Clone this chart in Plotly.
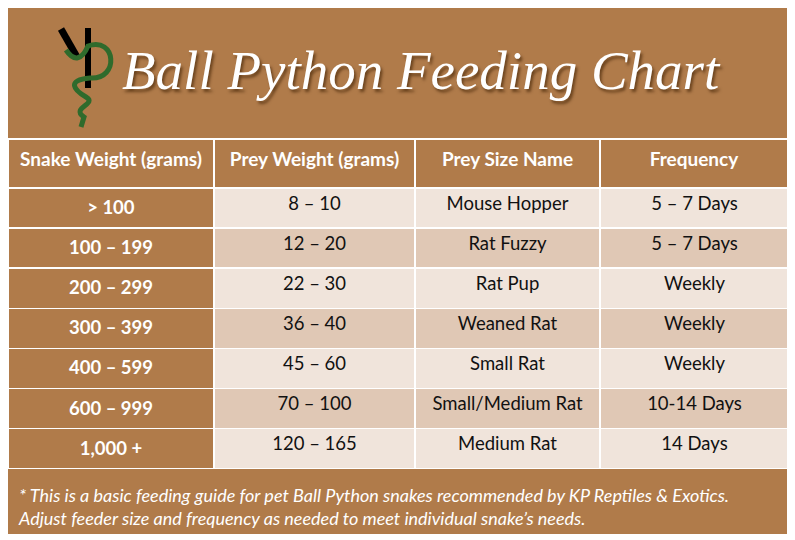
import plotly.graph_objects as go

# table data
headers = ["Snake Weight (grams)", "Prey Weight (grams)", "Prey Size Name", "Frequency"]
snake_weight = ["> 100", "100 – 199", "200 – 299", "300 – 399", "400 – 599", "600 – 999", "1,000 +"]
prey_weight = ["8 – 10", "12 – 20", "22 – 30", "36 – 40", "45 – 60", "70 – 100", "120 – 165"]
prey_size = ["Mouse Hopper", "Rat Fuzzy", "Rat Pup", "Weaned Rat", "Small Rat", "Small/Medium Rat", "Medium Rat"]
frequency = ["5 – 7 Days", "5 – 7 Days", "Weekly", "Weekly", "Weekly", "10-14 Days", "14 Days"]

title = "Ball Python Feeding Chart"
footnote = ("* This is a basic feeding guide for pet Ball Python snakes recommended by KP Reptiles & Exotics.<br>"
            "Adjust feeder size and frequency as needed to meet individual snake’s needs.")

W, H = 795, 540
OFF = 8  # page body margin of the browser
BROWN = "#B07B4A"
LIGHT = "#F0E4DB"
DARK = "#E0C8B5"

# helpers to place things in page pixels
def px(x):
    return max(0, (x - OFF) / W)

def py(y):
    return 1 - (y - OFF) / H

def path(cmds):
    # cmds: list of (letter, [x, y, x, y, ...]) in page pixels
    out = []
    for c, pts in cmds:
        xy = []
        for i in range(0, len(pts), 2):
            xy.append("%f %f" % (px(pts[i]), py(pts[i + 1])))
        out.append(c + " " + " ".join(xy))
    return " ".join(out)

n = len(snake_weight)
stripes = [LIGHT if i % 2 == 0 else DARK for i in range(n)]

fig = go.Figure()

fig.add_trace(go.Table(
    domain=dict(x=[px(8), px(789)], y=[py(469), py(139)]),
    columnwidth=[206, 201, 185, 189],
    header=dict(
        values=["<b>%s</b>" % h for h in headers],
        fill_color=BROWN,
        line=dict(color="white", width=1.5),
        font=dict(family="Lato", size=19, color="white"),
        align="center",
        height=49,
    ),
    cells=dict(
        values=[["<b>%s</b>" % s for s in snake_weight], prey_weight, prey_size, frequency],
        fill_color=[[BROWN] * n, stripes, stripes, stripes],
        line=dict(color="white", width=1.5),
        font=dict(family="Lato", size=18.5, color=["white", "#111111", "#111111", "#111111"]),
        align="center",
        height=40.1,
    ),
))

# brown card behind everything
fig.add_shape(type="rect", xref="paper", yref="paper",
              x0=px(8), x1=px(789), y0=py(534), y1=py(5),
              fillcolor=BROWN, line_width=0, layer="below")
# white rule under the title
fig.add_shape(type="line", xref="paper", yref="paper",
              x0=px(8), x1=px(789), y0=py(139), y1=py(139),
              line=dict(color="white", width=1.5))

# rough KP logo: mirrored K, then a green snake forming the P
fig.add_shape(type="path", xref="paper", yref="paper",
              path=path([("M", [61, 29]), ("L", [77, 57, 62, 88])]),
              line=dict(color="black", width=7))
fig.add_shape(type="line", xref="paper", yref="paper",
              x0=px(88), x1=px(88), y0=py(28), y1=py(88),
              line=dict(color="black", width=6))
fig.add_shape(type="path", xref="paper", yref="paper",
              path=path([("M", [66, 50]),
                         ("C", [74, 62, 82, 60, 88, 46]),
                         ("C", [116, 36, 120, 80, 90, 78]),
                         ("C", [66, 80, 74, 90, 86, 97]),
                         ("C", [98, 104, 70, 108, 84, 117]),
                         ("L", [81, 127])]),
              line=dict(color="#2F6B2C", width=5))

fig.add_annotation(x=px(421), y=py(70), xref="paper", yref="paper",
                   xanchor="center", yanchor="middle",
                   text=title, showarrow=False,
                   font=dict(family="Liberation Serif", size=55, color="white",
                             style="italic", shadow="2px 3px 3px rgba(60,30,0,0.6)"))

fig.add_annotation(x=px(16), y=py(506), xref="paper", yref="paper",
                   xanchor="left", yanchor="middle", align="left",
                   text=footnote, showarrow=False,
                   font=dict(family="Lato", size=18, color="white", style="italic"))

fig.update_layout(
    width=W, height=H,
    margin=dict(l=0, r=0, t=0, b=0),
    paper_bgcolor="white",
    plot_bgcolor="white",
    showlegend=False,
)

fig.write_html("out.html")
